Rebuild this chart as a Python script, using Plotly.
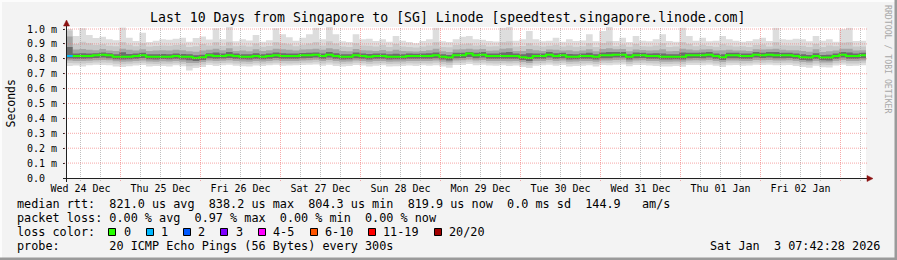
import plotly.graph_objects as go

# ---------------- data ----------------
# time axis: hours since Wed 24 Dec 00:00
start_h = 7.65
span_h = 240.0
bin_h = 2.0

# median RTT per bin (microseconds)
median_us = [
    819, 819, 819, 819, 823, 828, 823, 814, 814, 814,
    819, 823, 814, 814, 814, 814, 819, 814, 814, 805,
    810, 823, 819, 819, 823, 819, 814, 814, 819, 814,
    819, 823, 819, 819, 819, 823, 823, 828, 819, 828,
    819, 814, 814, 823, 819, 814, 819, 819, 814, 814,
    814, 819, 819, 819, 819, 823, 814, 808, 823, 823,
    836, 823, 828, 819, 819, 819, 819, 819, 810, 805,
    819, 819, 828, 819, 823, 814, 814, 819, 819, 814,
    823, 823, 828, 828, 814, 823, 823, 819, 819, 814,
    814, 814, 814, 823, 823, 823, 828, 819, 810, 823,
    823, 819, 819, 828, 823, 828, 823, 823, 823, 819,
    810, 808, 819, 808, 808, 819, 828, 819, 819, 823,
]
max_us = [
    1000, 953, 1005, 960, 940, 948, 931, 925, 1010, 942,
    919, 975, 912, 921, 931, 928, 935, 942, 915, 940,
    950, 930, 1005, 931, 1030, 917, 931, 922, 960, 915,
    925, 1005, 964, 945, 921, 942, 964, 1009, 931, 1030,
    964, 917, 912, 964, 931, 934, 919, 931, 915, 953,
    921, 912, 905, 919, 931, 1009, 917, 913, 931, 948,
    953, 931, 928, 919, 916, 1009, 1030, 921, 931, 987,
    931, 917, 921, 942, 915, 931, 919, 922, 964, 917,
    987, 1030, 919, 942, 912, 953, 921, 917, 931, 964,
    919, 915, 1009, 953, 921, 942, 917, 921, 953, 931,
    921, 915, 919, 931, 942, 919, 1009, 931, 928, 934,
    931, 917, 953, 921, 931, 915, 998, 1009, 919, 921,
]
p95_us = [
    990, 900, 915, 905, 892, 898, 888, 885, 912, 895,
    884, 905, 882, 886, 890, 888, 893, 896, 880, 885,
    900, 890, 912, 888, 915, 884, 889, 882, 902, 881,
    886, 912, 905, 897, 884, 895, 902, 912, 890, 918,
    902, 882, 880, 905, 890, 888, 883, 892, 880, 900,
    882, 879, 876, 883, 890, 912, 880, 878, 892, 898,
    902, 890, 893, 882, 884, 912, 918, 883, 886, 905,
    889, 883, 887, 895, 882, 890, 881, 884, 904, 880,
    906, 918, 884, 896, 881, 900, 885, 882, 890, 905,
    880, 883, 912, 900, 884, 895, 886, 881, 898, 890,
    882, 884, 880, 892, 896, 883, 912, 891, 889, 890,
    888, 880, 900, 879, 890, 884, 910, 912, 883, 882,
]
p85_us = [
    950, 862, 866, 860, 858, 865, 856, 853, 868, 860,
    855, 864, 852, 855, 857, 856, 860, 858, 850, 848,
    856, 860, 867, 857, 870, 853, 856, 851, 864, 852,
    857, 868, 864, 861, 856, 862, 864, 868, 860, 870,
    864, 852, 851, 866, 858, 856, 853, 859, 850, 860,
    852, 851, 849, 853, 858, 868, 850, 846, 862, 864,
    868, 862, 866, 854, 855, 868, 870, 853, 852, 866,
    858, 853, 862, 860, 856, 857, 851, 855, 864, 851,
    866, 870, 864, 866, 851, 863, 859, 855, 858, 864,
    850, 852, 868, 862, 858, 862, 864, 855, 858, 861,
    856, 855, 853, 864, 862, 864, 868, 860, 858, 858,
    852, 848, 864, 846, 850, 855, 868, 868, 856, 858,
]
p70_us = [
    880, 836, 838, 836, 838, 843, 838, 830, 844, 832,
    836, 840, 830, 831, 832, 830, 836, 832, 830, 824,
    828, 838, 842, 835, 845, 835, 831, 830, 838, 830,
    835, 843, 838, 836, 835, 839, 840, 843, 836, 846,
    838, 831, 830, 842, 836, 832, 835, 836, 830, 834,
    830, 835, 834, 836, 837, 843, 831, 826, 840, 841,
    846, 840, 845, 836, 836, 842, 846, 835, 830, 838,
    836, 835, 845, 837, 840, 833, 831, 836, 840, 830,
    842, 846, 845, 845, 831, 842, 840, 836, 837, 835,
    830, 831, 842, 840, 840, 842, 845, 836, 830, 840,
    840, 836, 836, 845, 841, 845, 846, 840, 840, 836,
    830, 826, 838, 826, 828, 836, 846, 842, 836, 840,
]
p30_us = [
    802, 801, 800, 802, 805, 808, 804, 797, 795, 797,
    801, 805, 797, 796, 798, 797, 801, 796, 790, 786,
    792, 804, 800, 802, 805, 800, 797, 796, 801, 797,
    801, 805, 801, 800, 801, 804, 805, 809, 800, 808,
    800, 796, 797, 804, 801, 796, 800, 801, 796, 797,
    797, 801, 800, 801, 800, 804, 795, 789, 804, 805,
    812, 804, 808, 801, 800, 801, 800, 801, 792, 786,
    800, 801, 808, 800, 804, 796, 797, 800, 801, 796,
    804, 803, 808, 809, 796, 804, 805, 801, 800, 796,
    796, 797, 795, 804, 805, 804, 808, 800, 792, 804,
    804, 800, 801, 808, 805, 808, 803, 804, 805, 800,
    792, 789, 800, 790, 789, 801, 808, 800, 800, 804,
]
p15_us = [
    788, 786, 785, 787, 790, 792, 790, 783, 780, 782,
    786, 789, 782, 781, 783, 782, 786, 781, 772, 772,
    778, 789, 785, 787, 790, 785, 782, 781, 786, 782,
    786, 790, 786, 785, 786, 789, 790, 793, 785, 792,
    785, 781, 782, 789, 786, 781, 785, 786, 781, 782,
    782, 786, 785, 786, 785, 789, 780, 775, 789, 790,
    796, 789, 792, 786, 785, 786, 784, 786, 778, 772,
    785, 786, 792, 785, 789, 781, 782, 785, 786, 781,
    789, 788, 792, 793, 781, 789, 790, 786, 785, 781,
    781, 782, 780, 789, 790, 789, 792, 785, 778, 789,
    789, 785, 786, 792, 790, 792, 788, 789, 790, 785,
    778, 775, 785, 776, 775, 786, 792, 785, 785, 789,
]
p05_us = [
    772, 770, 768, 771, 775, 776, 774, 767, 764, 766,
    770, 773, 766, 765, 767, 766, 770, 765, 750, 755,
    762, 773, 769, 771, 774, 769, 766, 765, 770, 766,
    770, 774, 770, 769, 770, 773, 774, 777, 769, 776,
    769, 765, 766, 773, 770, 765, 769, 770, 765, 766,
    766, 770, 769, 770, 769, 773, 764, 758, 773, 774,
    780, 773, 776, 770, 769, 770, 768, 770, 762, 756,
    769, 770, 776, 769, 773, 765, 766, 769, 770, 765,
    773, 772, 776, 777, 765, 773, 774, 770, 769, 765,
    765, 766, 764, 773, 774, 773, 776, 769, 762, 773,
    773, 769, 770, 776, 774, 776, 772, 773, 774, 769,
    762, 759, 769, 760, 759, 770, 776, 769, 769, 773,
]
min_us = [
    752, 755, 748, 756, 760, 758, 757, 748, 745, 750,
    755, 758, 749, 752, 751, 748, 756, 750, 722, 738,
    745, 758, 752, 756, 760, 754, 750, 749, 755, 751,
    756, 760, 754, 755, 756, 758, 760, 762, 753, 760,
    752, 748, 751, 759, 755, 749, 754, 756, 749, 750,
    751, 755, 752, 756, 754, 757, 748, 740, 758, 759,
    765, 757, 760, 755, 754, 756, 752, 755, 745, 738,
    753, 756, 760, 754, 758, 749, 751, 754, 756, 748,
    758, 756, 760, 762, 750, 758, 758, 755, 752, 748,
    749, 751, 746, 758, 759, 757, 760, 754, 745, 757,
    758, 753, 755, 760, 758, 760, 756, 757, 759, 752,
    745, 740, 754, 743, 742, 755, 760, 752, 754, 757,
]
# lost pings (out of 20) per bin
loss_pings = [
    1, 0, 0, 0, 0, 0, 0, 0, 0, 0, 0, 0, 0, 0, 0, 0, 0, 0, 0, 0,
    0, 0, 0, 0, 0, 0, 0, 0, 0, 0, 0, 0, 0, 0, 0, 0, 0, 0, 0, 0,
    0, 0, 0, 0, 0, 0, 0, 0, 0, 0, 0, 0, 0, 0, 0, 0, 0, 0, 0, 0,
    0, 0, 0, 0, 0, 0, 0, 0, 0, 0, 0, 0, 0, 0, 0, 0, 0, 0, 0, 0,
    0, 0, 0, 0, 0, 0, 0, 0, 0, 0, 0, 0, 0, 0, 0, 0, 0, 0, 0, 0,
    0, 0, 0, 0, 0, 0, 0, 0, 0, 0, 0, 0, 0, 0, 0, 0, 0, 0, 0, 0,
]

day_labels = ["Wed 24 Dec", "Thu 25 Dec", "Fri 26 Dec", "Sat 27 Dec", "Sun 28 Dec",
              "Mon 29 Dec", "Tue 30 Dec", "Wed 31 Dec", "Thu 01 Jan", "Fri 02 Jan"]
y_tick_ms = [0.0, 0.1, 0.2, 0.3, 0.4, 0.5, 0.6, 0.7, 0.8, 0.9, 1.0]
y_tick_labels = ["0.0\u00a0\u00a0", "0.1 m", "0.2 m", "0.3 m", "0.4 m", "0.5 m",
                 "0.6 m", "0.7 m", "0.8 m", "0.9 m", "1.0 m"]

loss_legend = ["0", "1", "2", "3", "4-5", "6-10", "11-19", "20/20"]
loss_colors = ["#26ff00", "#00b8ff", "#0059ff", "#7e00ff", "#ff00ff", "#ff5500", "#ff0000", "#a10000"]

title = "Last 10 Days from Singapore to [SG] Linode [speedtest.singapore.linode.com]"
rtt_stats = ("821.0", "838.2", "804.3", "819.9", "0.0", "144.9")
loss_stats = ("0.00", "0.97", "0.00", "0.00")
probe_text = "20 ICMP Echo Pings (56 Bytes) every 300s"
stamp = "Sat Jan  3 07:42:28 2026"

# ---------------- geometry ----------------
W, H = 897, 260
PX_L, PX_R, PX_T, PX_B = 66, 866, 27, 178
Y_MAX = 1.0e-3 * (PX_B - PX_T) / 149.0
MONO = "DejaVu Sans Mono"
CW = 7.1  # legend char width


def px(x):
    return (x - PX_L) / (PX_R - PX_L)


def py(y):
    return (PX_B - y) / (PX_B - PX_T)


def nb(s):
    return s.replace(" ", "\u00a0")


n = len(median_us)
edges = [start_h + bin_h * i for i in range(n + 1)]


def ext(a):
    return [v * 1e-6 for v in a] + [a[-1] * 1e-6]


fig = go.Figure()

layers = [
    (min_us, max_us, "#dddddd"),
    (p05_us, p95_us, "#c9c9c9"),
    (p15_us, p85_us, "#a6a6a6"),
    (p30_us, p70_us, "#6c6c6c"),
]
for lo, hi, col in layers:
    fig.add_trace(go.Scatter(x=edges, y=ext(lo), mode="lines", line=dict(width=0, shape="hv"),
                             hoverinfo="skip", showlegend=False))
    fig.add_trace(go.Scatter(x=edges, y=ext(hi), mode="lines", line=dict(width=0, shape="hv"),
                             fill="tonexty", fillcolor=col, hoverinfo="skip", showlegend=False))

fig.add_trace(go.Scatter(x=edges, y=ext(median_us), mode="lines",
                         line=dict(width=2, shape="hv", color=loss_colors[0]),
                         hoverinfo="skip", showlegend=False))
for i, lp in enumerate(loss_pings):
    if lp > 0:
        idx = 1 if lp == 1 else 2 if lp == 2 else 3 if lp == 3 else 4 if lp <= 5 else 5 if lp <= 10 else 6 if lp < 20 else 7
        fig.add_trace(go.Scatter(x=[edges[i], edges[i + 1]], y=[median_us[i] * 1e-6] * 2, mode="lines",
                                 line=dict(width=2, color=loss_colors[idx]), hoverinfo="skip", showlegend=False))

shapes = []
GRID = "rgba(170,170,170,0.75)"
MGRID = "rgba(240,110,110,0.6)"
t = 6 * int(start_h // 6 + 1)
while t <= start_h + span_h:
    shapes.append(dict(type="line", xref="x", yref="paper", x0=t, x1=t, y0=py(181), y1=1,
                       line=dict(color=MGRID if t % 24 == 0 else GRID, width=1, dash="1px,1px"), layer="above"))
    t += 6
for v in y_tick_ms[1:]:
    shapes.append(dict(type="line", xref="paper", yref="y", x0=px(64), x1=1.0025, y0=v * 1e-3, y1=v * 1e-3,
                       line=dict(color=MGRID, width=1, dash="1px,1px"), layer="above"))

AX = "#202020"
ARROW = "#8b1010"
shapes.append(dict(type="line", xref="paper", yref="paper", x0=px(63), x1=px(868), y0=py(178.5), y1=py(178.5),
                   line=dict(color=AX, width=1), layer="above"))
shapes.append(dict(type="line", xref="paper", yref="paper", x0=px(66.5), x1=px(66.5), y0=py(182), y1=py(25),
                   line=dict(color=AX, width=1), layer="above"))
shapes.append(dict(type="path", xref="paper", yref="paper",
                   path=f"M {px(867)},{py(175.5)} L {px(873)},{py(178.5)} L {px(867)},{py(181.5)} Z",
                   fillcolor=ARROW, line=dict(color=ARROW, width=0.5), layer="above"))
shapes.append(dict(type="path", xref="paper", yref="paper",
                   path=f"M {px(63.5)},{py(26)} L {px(66.5)},{py(20)} L {px(69.5)},{py(26)} Z",
                   fillcolor=ARROW, line=dict(color=ARROW, width=0.5), layer="above"))

# frame shading
shapes.append(dict(type="rect", xref="paper", yref="paper", x0=px(0), x1=px(W), y0=py(2), y1=py(0),
                   fillcolor="#fcfcfc", line=dict(width=0)))
shapes.append(dict(type="rect", xref="paper", yref="paper", x0=px(0), x1=px(2), y0=py(H), y1=py(0),
                   fillcolor="#fcfcfc", line=dict(width=0)))
shapes.append(dict(type="rect", xref="paper", yref="paper", x0=px(0), x1=px(W), y0=py(H), y1=py(H - 2.5),
                   fillcolor="#9a9a9a", line=dict(width=0)))
shapes.append(dict(type="rect", xref="paper", yref="paper", x0=px(W - 2.5), x1=px(W), y0=py(H), y1=py(0),
                   fillcolor="#9a9a9a", line=dict(width=0)))

# legend boxes
box_x = []
bx = 16 + 13 * CW
for lab in loss_legend:
    box_x.append(bx)
    bx += 30.3 + CW * len(lab)
for bxi, col in zip(box_x, loss_colors):
    shapes.append(dict(type="rect", xref="paper", yref="paper", x0=px(round(bxi) + 0.5), x1=px(round(bxi) + 7.5),
                       y0=py(235.5), y1=py(228.5), fillcolor=col, line=dict(color="#000000", width=1)))

ann = []


def A(text, x, y, size=11.8, xanchor="left", angle=0, color="#000000"):
    ann.append(dict(text=text, x=px(x), y=py(y), xref="paper", yref="paper", showarrow=False,
                    xanchor=xanchor, yanchor="middle", textangle=angle, borderpad=0,
                    font=dict(family=MONO, size=size, color=color)))


A(nb(title), 447, 18, size=13.2, xanchor="center")
A("Seconds", 10.5, 103, size=11.5, xanchor="center", angle=-90)
A(nb("RRDTOOL / TOBI OETIKER"), 888, 59, size=8.2, xanchor="center", angle=90, color="#a8a8a8")

r = rtt_stats
A(nb(f"median rtt:  {r[0]} us avg  {r[1]} us max  {r[2]} us min  {r[3]} us now  {r[4]} ms sd  {r[5]}   am/s"),
  16, 204.3)
l = loss_stats
A(nb(f"packet loss: {l[0]} % avg  {l[1]} % max  {l[2]} % min  {l[3]} % now"), 16, 218.3)
A(nb("loss color:"), 16, 232.3)
for bxi, lab in zip(box_x, loss_legend):
    A(nb(lab), bxi + 14.2, 232.3)
A(nb("probe:" + " " * 7 + probe_text), 16, 246.3)
A(nb(stamp), 881, 246.3, xanchor="right")

fig.update_layout(
    width=W, height=H, autosize=False,
    margin=dict(l=PX_L, r=W - PX_R, t=PX_T, b=H - PX_B, pad=0),
    paper_bgcolor="#f3f3f3", plot_bgcolor="#ffffff",
    showlegend=False,
    shapes=shapes, annotations=ann,
    xaxis=dict(range=[start_h, start_h + span_h], showgrid=False, zeroline=False, showline=False,
               tickmode="array", tickvals=[12 + 24 * k for k in range(len(day_labels))],
               ticktext=day_labels, ticks="", ticklabelstandoff=3,
               tickfont=dict(family=MONO, size=10, color="#000000"), fixedrange=True),
    yaxis=dict(range=[0, Y_MAX], showgrid=False, zeroline=False, showline=False,
               tickmode="array", tickvals=[v * 1e-3 for v in y_tick_ms], ticktext=y_tick_labels,
               ticks="outside", ticklen=2, tickcolor=AX, tickwidth=1, ticklabelstandoff=4,
               tickfont=dict(family=MONO, size=10, color="#000000"), fixedrange=True),
)

fig.write_html("out.html")
